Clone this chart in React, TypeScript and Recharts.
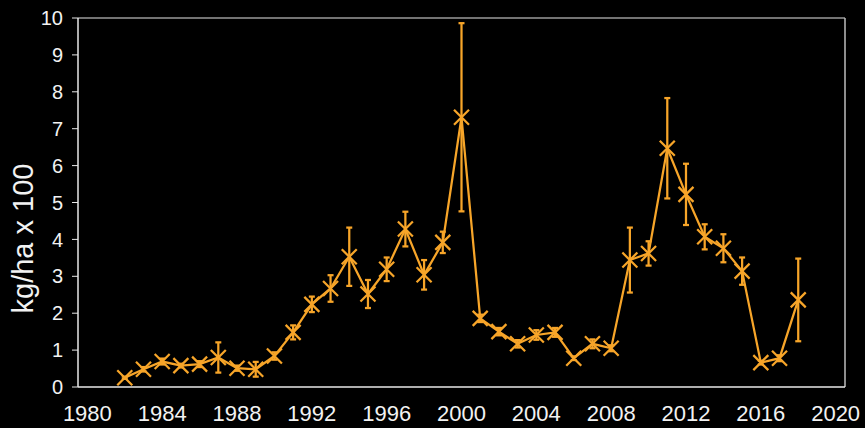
import React from "react";
import {
  LineChart,
  Line,
  XAxis,
  YAxis,
  ErrorBar,
  ReferenceLine,
} from "recharts";

const years = [
  1982, 1983, 1984, 1985, 1986, 1987, 1988, 1989, 1990, 1991, 1992, 1993, 1994,
  1995, 1996, 1997, 1998, 1999, 2000, 2001, 2002, 2003, 2004, 2005, 2006, 2007,
  2008, 2009, 2010, 2011, 2012, 2013, 2014, 2015, 2016, 2017, 2018,
];

const catch100 = [
  0.25, 0.48, 0.69, 0.58, 0.62, 0.8, 0.51, 0.48, 0.84, 1.48, 2.24, 2.67, 3.53,
  2.52, 3.19, 4.28, 3.04, 3.92, 7.31, 1.86, 1.5, 1.17, 1.41, 1.48, 0.78, 1.17,
  1.05, 3.44, 3.62, 6.47, 5.22, 4.07, 3.76, 3.14, 0.66, 0.78, 2.36,
];

const errors = [
  0.03, 0.06, 0.08, 0.05, 0.08, 0.41, 0.07, 0.2, 0.1, 0.19, 0.21, 0.36, 0.79,
  0.38, 0.32, 0.47, 0.4, 0.29, 2.55, 0.1, 0.1, 0.1, 0.13, 0.12, 0.05, 0.12,
  0.08, 0.88, 0.33, 1.36, 0.83, 0.34, 0.38, 0.37, 0.05, 0.08, 1.12,
];

const yearLabels = [1980, 1984, 1988, 1992, 1996, 2000, 2004, 2008, 2012, 2016, 2020];
const yTicks = [0, 1, 2, 3, 4, 5, 6, 7, 8, 9, 10];
// tick marks sit between the yearly categories
const minorTicks = Array.from({ length: 42 }, (_, i) => 1979.5 + i);

const data = years.map((year, i) => ({ year, value: catch100[i], err: errors[i] }));

const ORANGE = "#F7A529";
const AXIS = "#e8e8e8";
const FONT = "'Liberation Sans', Arial, sans-serif";

function XMark(props: any) {
  const { cx, cy } = props;
  if (cx == null || cy == null) return null;
  const s = 7.5;
  return (
    <path
      d={`M${cx - s},${cy - s}L${cx + s},${cy + s}M${cx - s},${cy + s}L${cx + s},${cy - s}`}
      stroke={ORANGE}
      strokeWidth={2.25}
      fill="none"
    />
  );
}

function YLabel(props: any) {
  const { viewBox } = props;
  const x = viewBox.x + 23;
  const y = viewBox.y + viewBox.height / 2 + 36;
  return (
    <text
      x={x}
      y={y}
      transform={`rotate(-90, ${x}, ${y})`}
      textAnchor="middle"
      dominantBaseline="central"
      fill="#f2f2f2"
      fontSize={29}
      fontFamily={FONT}
    >
      kg/ha x 100
    </text>
  );
}

export default function App() {
  return (
    <div style={{ width: 865, height: 428, background: "#000" }}>
      <style>{"body{margin:0;background:#000}"}</style>
      <LineChart
        width={865}
        height={428}
        data={data}
        margin={{ top: 18, right: 20, bottom: 0, left: 0 }}
      >
        <XAxis
          xAxisId="minor"
          dataKey="year"
          type="number"
          domain={[1979.5, 2020.5]}
          ticks={minorTicks}
          interval={0}
          tick={false}
          tickSize={6}
          tickLine={{ stroke: AXIS }}
          axisLine={false}
          height={0}
        />
        <XAxis
          dataKey="year"
          type="number"
          domain={[1979.5, 2020.5]}
          ticks={yearLabels}
          interval={0}
          tickLine={false}
          tickSize={6}
          tickMargin={12}
          axisLine={{ stroke: AXIS, strokeWidth: 1.5 }}
          tick={{ fill: "#f2f2f2", fontSize: 22, fontFamily: FONT }}
          height={41}
        />
        <YAxis
          domain={[0, 10]}
          ticks={yTicks}
          interval={0}
          width={78}
          tickSize={6}
          tickMargin={9}
          axisLine={{ stroke: AXIS, strokeWidth: 1.5 }}
          tickLine={{ stroke: AXIS }}
          tick={{ fill: "#f2f2f2", fontSize: 20, fontFamily: FONT }}
          label={<YLabel />}
        />
        <ReferenceLine y={10} stroke="#9a9a9a" strokeWidth={1.5} />
        <ReferenceLine x={2020.5} stroke="#bdbdbd" strokeWidth={1.5} />
        <Line
          dataKey="value"
          stroke={ORANGE}
          strokeWidth={2.25}
          dot={<XMark />}
          activeDot={false}
          isAnimationActive={false}
        >
          <ErrorBar
            dataKey="err"
            direction="y"
            width={3}
            stroke={ORANGE}
            strokeWidth={2.25}
          />
        </Line>
      </LineChart>
    </div>
  );
}
